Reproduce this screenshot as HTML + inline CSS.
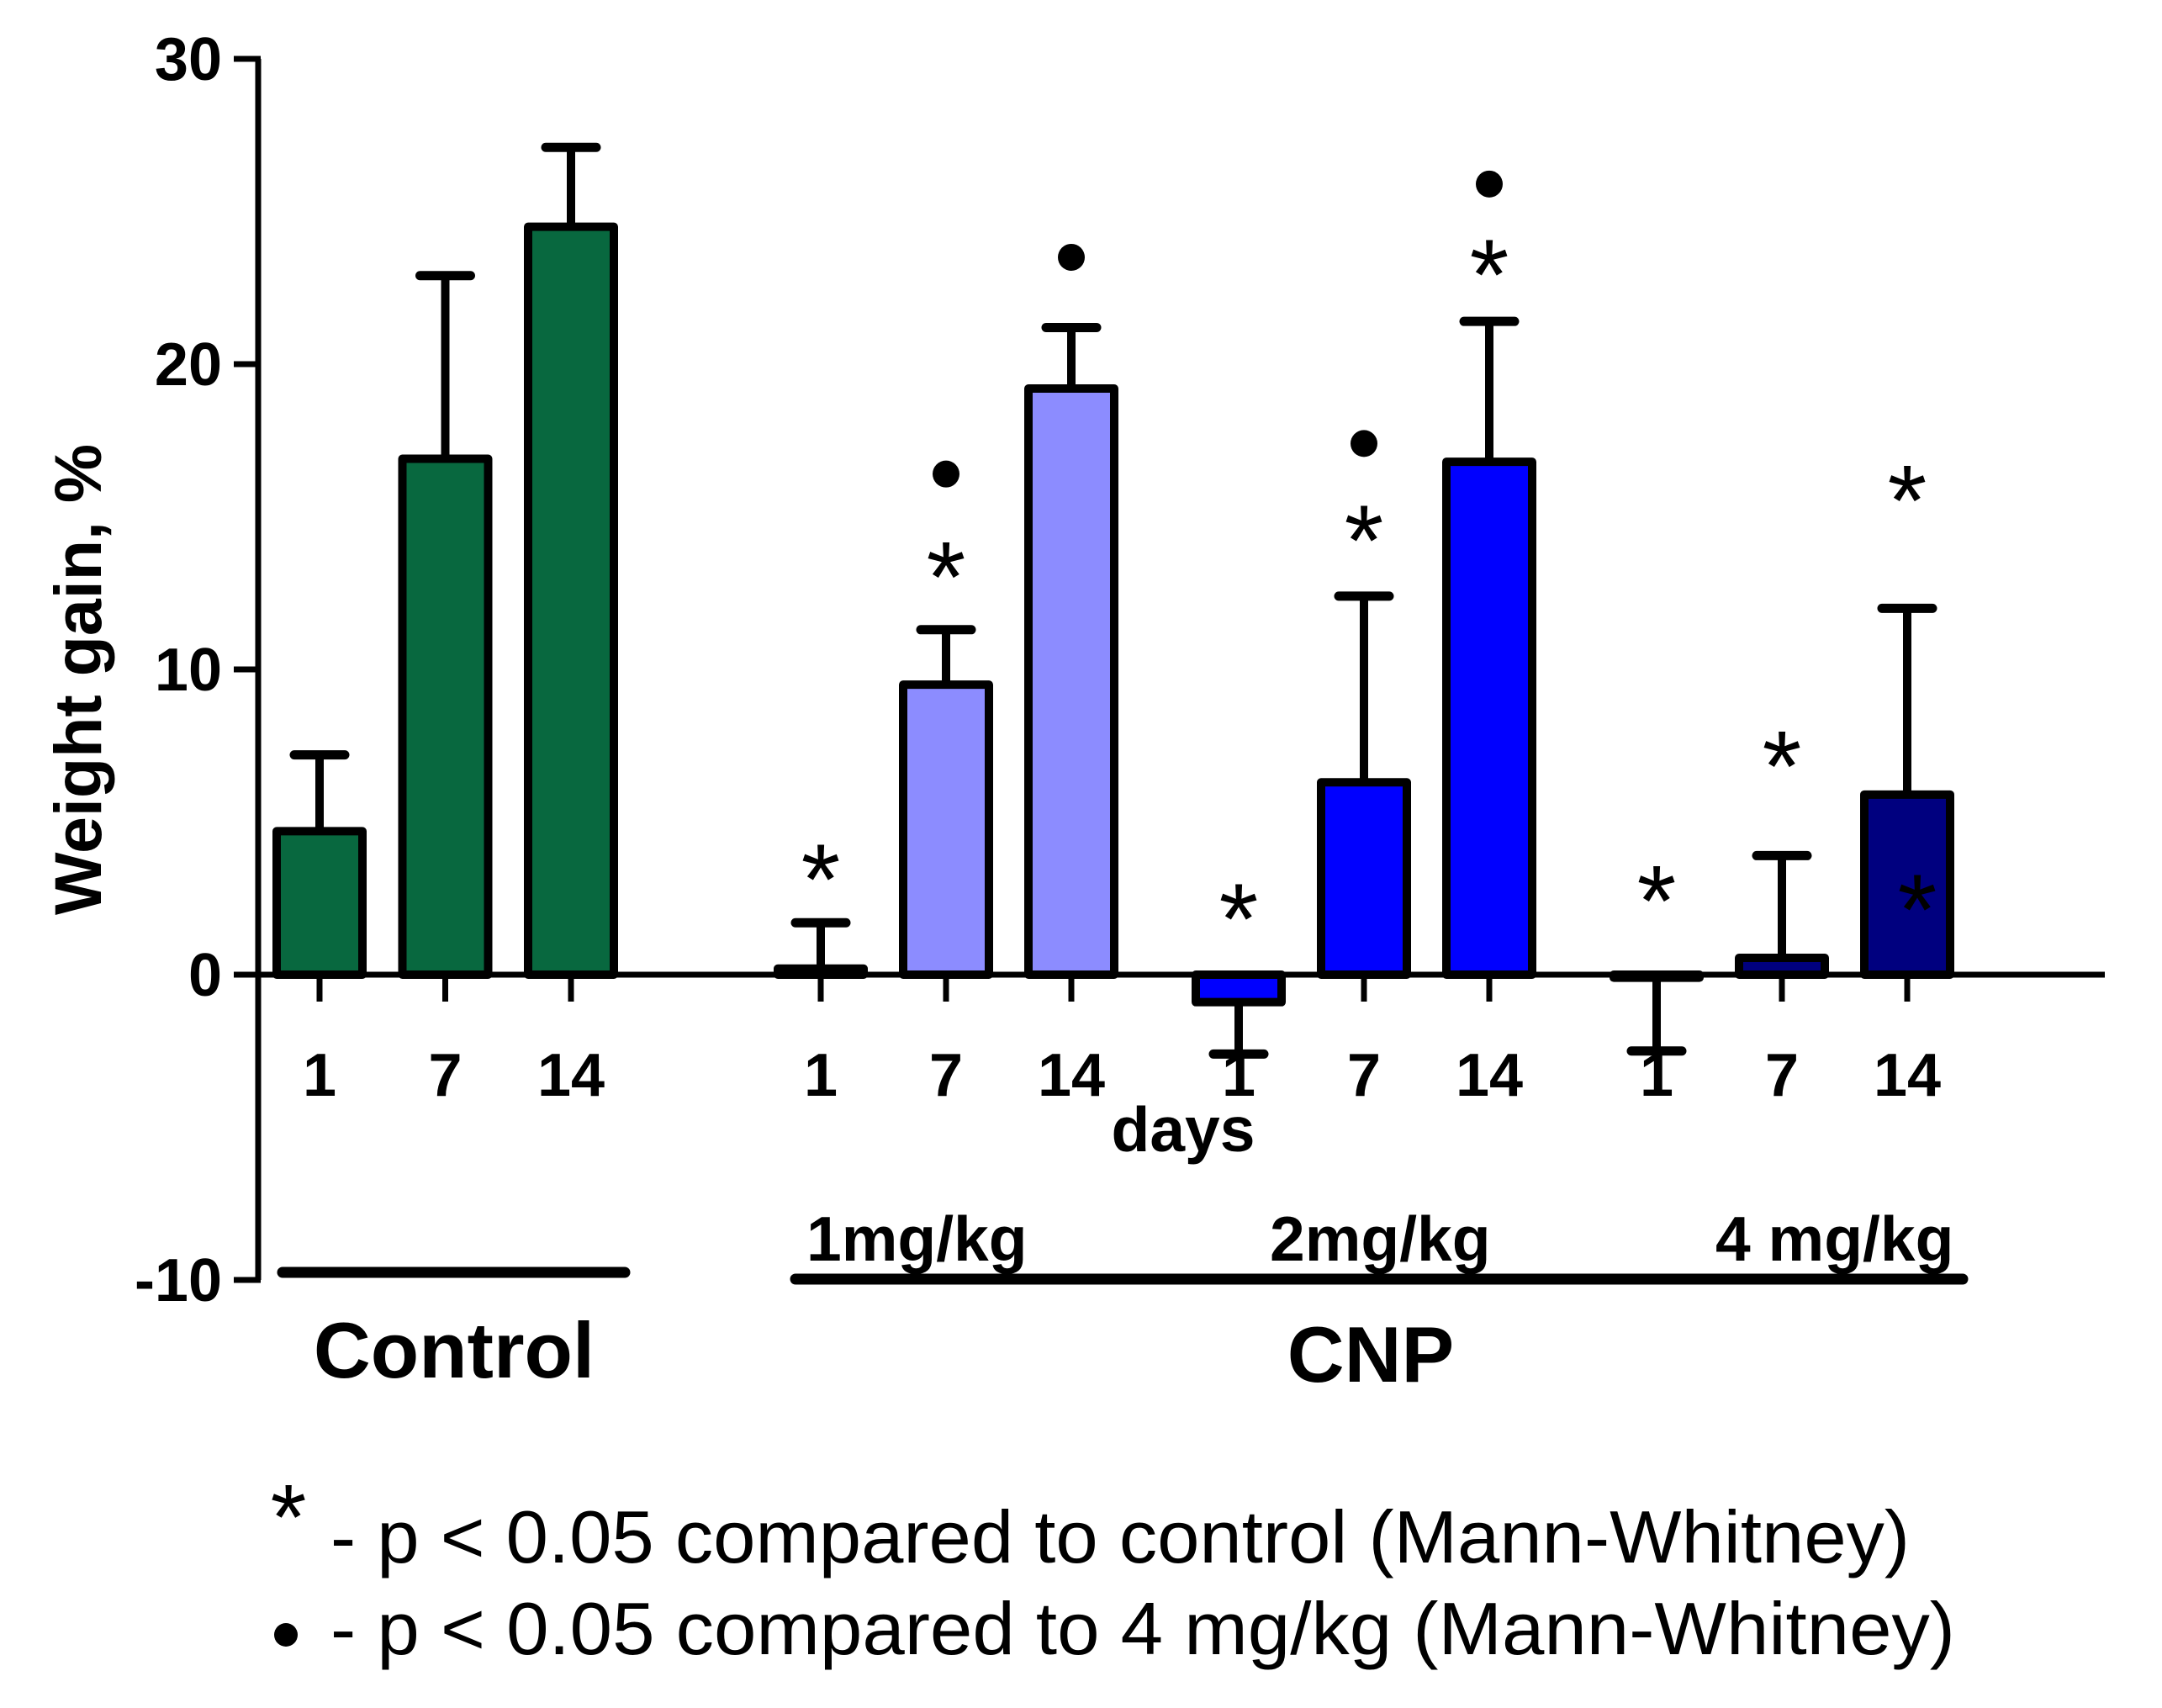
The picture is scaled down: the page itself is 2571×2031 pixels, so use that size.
<!DOCTYPE html>
<html><head><meta charset="utf-8"><style>
html,body{margin:0;padding:0;background:#fff;}
svg{display:block;font-family:"Liberation Sans",Arial,sans-serif;}
</style></head><body>
<svg id="chart" width="2571" height="2031" viewBox="0 0 2571 2031" xmlns="http://www.w3.org/2000/svg">
<rect width="2571" height="2031" fill="#fff"/>
<g id="axes"></g><g id="bars"></g><g id="marks"></g>
<text x="0" y="0" transform="translate(120,808) rotate(-90)" text-anchor="middle" font-size="79" font-weight="bold">Weight gain, %</text>
<text x="1407" y="1369" text-anchor="middle" font-size="75" font-weight="bold">days</text>
<line x1="336" y1="1513" x2="743" y2="1513" stroke="#000" stroke-width="13" stroke-linecap="round"/>
<line x1="946" y1="1521" x2="2334" y2="1521" stroke="#000" stroke-width="13" stroke-linecap="round"/>
<text x="959" y="1499" font-size="75" font-weight="bold">1mg/kg</text>
<text x="1510" y="1499" font-size="75" font-weight="bold">2mg/kg</text>
<text x="2040" y="1499" font-size="75" font-weight="bold">4 mg/kg</text>
<text x="540" y="1638" text-anchor="middle" font-size="94" font-weight="bold">Control</text>
<text x="1630" y="1643" text-anchor="middle" font-size="94" font-weight="bold">CNP</text>
<text x="343" y="1842" text-anchor="middle" font-size="110">*</text>
<text x="393" y="1858" font-size="88" textLength="1878" lengthAdjust="spacingAndGlyphs">- p &lt; 0.05 compared to control (Mann-Whitney)</text>
<circle cx="340" cy="1944" r="14" fill="#000"/>
<text x="393" y="1967" font-size="88" textLength="1932" lengthAdjust="spacingAndGlyphs">- p &lt; 0.05 compared to 4 mg/kg (Mann-Whitney)</text>
</svg>
<script>
const categories = ["C-1","C-7","C-14","1mg-1","1mg-7","1mg-14","2mg-1","2mg-7","2mg-14","4mg-1","4mg-7","4mg-14"];
const dayLabels = ["1","7","14","1","7","14","1","7","14","1","7","14"];
const values = [4.7, 16.9, 24.5, 0.2, 9.5, 19.2, -0.9, 6.3, 16.8, -0.1, 0.55, 5.9];
const errors = [2.5, 6.0, 2.6, 1.5, 1.8, 2.0, 1.7, 6.1, 4.6, 2.4, 3.35, 6.1];
const colors = ["#08683f","#08683f","#08683f","#8c8cff","#8c8cff","#8c8cff","#0000ff","#0000ff","#0000ff","#00007f","#00007f","#00007f"];
const yTicks = [-10, 0, 10, 20, 30];
const starMarks = [3, 4, 6, 7, 8, 9, 10, 11];
const starValues = [3.2, 13.1, 1.9, 14.3, 23.0, 2.5, 6.9, 15.6];
const dotMarks = [4, 5, 7, 8];
const dotValues = [16.4, 23.5, 17.4, 25.9];
const extraStarIdx = [11];
const extraStarVal = [2.2];

const NS = "http://www.w3.org/2000/svg";
const Y0 = 1159, PU = 36.3;
function yS(v){ return Y0 - v*PU; }
function mk(tag, attrs, parent){ const e=document.createElementNS(NS,tag); for(const k in attrs) e.setAttribute(k,attrs[k]); parent.appendChild(e); return e; }
const axes=document.getElementById('axes'), bars=document.getElementById('bars'), marks=document.getElementById('marks');
function xPos(i){ if(i<3) return 380+i*149.5; const j=i-3; const g=Math.floor(j/3), k=j%3; return 976+g*497+k*149; }

let a=mk('line',{x1:307,y1:yS(30),x2:307,y2:yS(-10),stroke:'#000','stroke-width':7},axes);


yTicks.forEach(t=>{
  let l=mk('line',{x1:278,y1:yS(t),x2:310,y2:yS(t),stroke:'#000','stroke-width':7},axes);
  
  
  let tx=mk('text',{x:264,y:yS(t)+25,'text-anchor':'end','font-size':72,'font-weight':'bold'},axes);
  tx.textContent=String(t);
  
  
});
categories.forEach((c,i)=>{
  const x=xPos(i), v=values[i], e=errors[i];
  const top=Math.min(yS(v),yS(0)), h=Math.max(Math.abs(yS(v)-yS(0)),2);
  const dir = v>=0?1:-1;
  let el=mk('line',{x1:x,y1:yS(v),x2:x,y2:yS(v+dir*e),stroke:'#000','stroke-width':10},bars);
  
  
  let cap=mk('line',{x1:x-30,y1:yS(v+dir*e),x2:x+30,y2:yS(v+dir*e),stroke:'#000','stroke-width':11,'stroke-linecap':'round'},bars);
  
  
  let r=mk('rect',{x:x-51,y:top,width:102,height:h,fill:colors[i],stroke:'#000','stroke-width':10,'stroke-linejoin':'round'},bars);
  
  
  let t=mk('line',{x1:x,y1:yS(0),x2:x,y2:yS(0)+32,stroke:'#000','stroke-width':7},axes);
  
  
  let lb=mk('text',{x:x,y:1303,'text-anchor':'middle','font-size':72,'font-weight':'bold'},marks);
  lb.textContent=dayLabels[i];
  
  
});
let z=mk('line',{x1:307,y1:yS(0),x2:2503,y2:yS(0),stroke:'#000','stroke-width':7},axes);


starMarks.forEach((i,k)=>{
  let s=mk('text',{x:xPos(i),y:yS(starValues[k])+44,'text-anchor':'middle','font-size':120},marks);
  s.textContent='*';
  
  
});
extraStarIdx.forEach((i,k)=>{
  let s=mk('text',{x:xPos(i)+12,y:yS(extraStarVal[k])+44,'text-anchor':'middle','font-size':120,fill:'#000'},marks);
  s.textContent='*';
  
  
});
dotMarks.forEach((i,k)=>{
  let d=mk('circle',{cx:xPos(i),cy:yS(dotValues[k]),r:16,fill:'#000'},marks);
  
  
});
</script>
</body></html>
